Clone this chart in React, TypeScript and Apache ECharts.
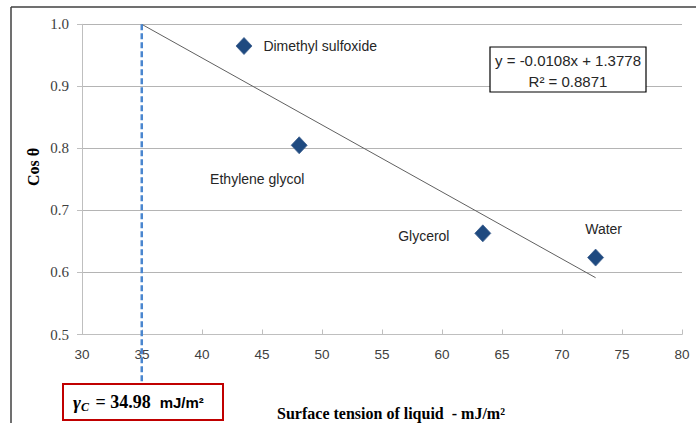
import React, { useEffect, useRef } from "react";
import * as echarts from "echarts";

const liquids = ["Dimethyl sulfoxide", "Ethylene glycol", "Glycerol", "Water"];
const surfaceTension = [43.5, 48.1, 63.4, 72.8];
const cosTheta = [0.965, 0.805, 0.663, 0.624];
const labelOffsets: [number, number][] = [[0, 0], [-42, 34], [-59, 3], [8, -29]];
const slope = -0.0108;
const intercept = 1.3778;
const criticalTension = 34.98;
const trendEndX = 72.8;
const xTicks = { min: 30, max: 80, interval: 5 };
const yTicks = { min: 0.5, max: 1.0, interval: 0.1 };

export default function App() {
  const ref = useRef<HTMLDivElement>(null);
  useEffect(() => {
    if (!ref.current) return;
    const chart = echarts.init(ref.current, null, { renderer: "svg" });
    const sans = "Liberation Sans";
    const serif = "Liberation Serif";
    const data = liquids.map((n, i) => {
      const d: any = { name: n, value: [surfaceTension[i], cosTheta[i]] };
      if (i === 0) {
        d.label = { position: "right", distance: 11 };
      } else {
        d.label = { position: "inside", offset: labelOffsets[i] };
      }
      return d;
    });
    chart.setOption({
      animation: false,
      grid: { left: 82, top: 24.3, right: 14, bottom: 88.5 },
      xAxis: {
        type: "value",
        min: xTicks.min,
        max: xTicks.max,
        interval: xTicks.interval,
        axisLine: { show: true, lineStyle: { color: "#bfbfbf", width: 1 } },
        axisTick: { show: true, inside: true, length: 5, lineStyle: { color: "#bfbfbf" } },
        splitLine: { show: false },
        axisLabel: { color: "#404040", fontFamily: sans, fontSize: 13.5, margin: 13 },
      },
      yAxis: {
        type: "value",
        min: yTicks.min,
        max: yTicks.max,
        interval: yTicks.interval,
        axisLine: { show: true, lineStyle: { color: "#bfbfbf", width: 1 } },
        axisTick: { show: true, length: 5, lineStyle: { color: "#bfbfbf" } },
        splitLine: { show: true, lineStyle: { color: "#b4b4b4", width: 1 } },
        axisLabel: {
          color: "#404040",
          fontFamily: serif,
          fontSize: 15,
          margin: 13,
          formatter: (v: number) => v.toFixed(1),
        },
      },
      series: [
        {
          type: "line",
          data: [
            [criticalTension, slope * criticalTension + intercept],
            [trendEndX, slope * trendEndX + intercept],
          ],
          symbol: "none",
          lineStyle: { color: "#606060", width: 1 },
          z: 2,
        },
        {
          type: "line",
          data: [
            [criticalTension, 1.0],
            [criticalTension, 0.4214],
          ],
          symbol: "none",
          clip: false,
          lineStyle: { color: "#4a86cf", width: 2.5, type: [6, 3] },
          z: 3,
        },
        {
          type: "scatter",
          data,
          symbol: "diamond",
          symbolSize: [16, 17],
          itemStyle: { color: "#1f4a80", borderColor: "#3d5f8e", borderWidth: 0.8, opacity: 1 },
          label: {
            show: true,
            formatter: "{b}",
            color: "#262626",
            fontFamily: sans,
            fontSize: 14,
          },
          z: 4,
        },
      ],
      graphic: [
        { type: "line", shape: { x1: 11, y1: 7, x2: 696, y2: 7 }, style: { stroke: "#404040", lineWidth: 1.5 } },
        { type: "line", shape: { x1: 11, y1: 7, x2: 11, y2: 423 }, style: { stroke: "#404040", lineWidth: 1.5 } },
        {
          type: "rect",
          shape: { x: 490, y: 47, width: 156, height: 45 },
          style: { fill: "#ffffff", stroke: "#000000", lineWidth: 1.2 },
          z: 10,
        },
        {
          type: "text",
          x: 568,
          y: 60,
          z: 11,
          style: {
            text: "y = -0.0108x + 1.3778",
            align: "center",
            verticalAlign: "middle",
            fill: "#262626",
            font: `15px ${sans}`,
          },
        },
        {
          type: "text",
          x: 568,
          y: 81,
          z: 11,
          style: {
            text: "R² = 0.8871",
            align: "center",
            verticalAlign: "middle",
            fill: "#262626",
            font: `15px ${sans}`,
          },
        },
        {
          type: "rect",
          shape: { x: 63, y: 384, width: 160, height: 36 },
          style: { fill: "#ffffff", stroke: "#c00000", lineWidth: 2 },
          z: 10,
        },
        {
          type: "text",
          x: 73,
          y: 402,
          z: 11,
          style: {
            text: "{g|γ}{s|C}{t| = 34.98  }{u|mJ/m²}",
            align: "left",
            verticalAlign: "middle",
            rich: {
              g: { font: `italic bold 19px ${serif}`, fill: "#000" },
              s: { font: `italic bold 12px ${serif}`, fill: "#000", verticalAlign: "bottom", padding: [9, 2, 0, 0] },
              t: { font: `bold 18px ${serif}`, fill: "#000" },
              u: { font: `bold 15px ${sans}`, fill: "#000" },
            },
          },
        },
        {
          type: "text",
          x: 33,
          y: 167,
          rotation: Math.PI / 2,
          style: {
            text: "Cos θ",
            align: "center",
            verticalAlign: "middle",
            fill: "#000",
            font: `bold 16px ${serif}`,
          },
        },
        {
          type: "text",
          x: 391,
          y: 413,
          style: {
            text: "Surface tension of liquid  - mJ/m²",
            align: "center",
            verticalAlign: "middle",
            fill: "#000",
            font: `bold 16px ${serif}`,
          },
        },
      ],
    });
    return () => chart.dispose();
  }, []);
  return <div ref={ref} style={{ width: 696, height: 423, position: "absolute", left: 0, top: 0 }} />;
}
